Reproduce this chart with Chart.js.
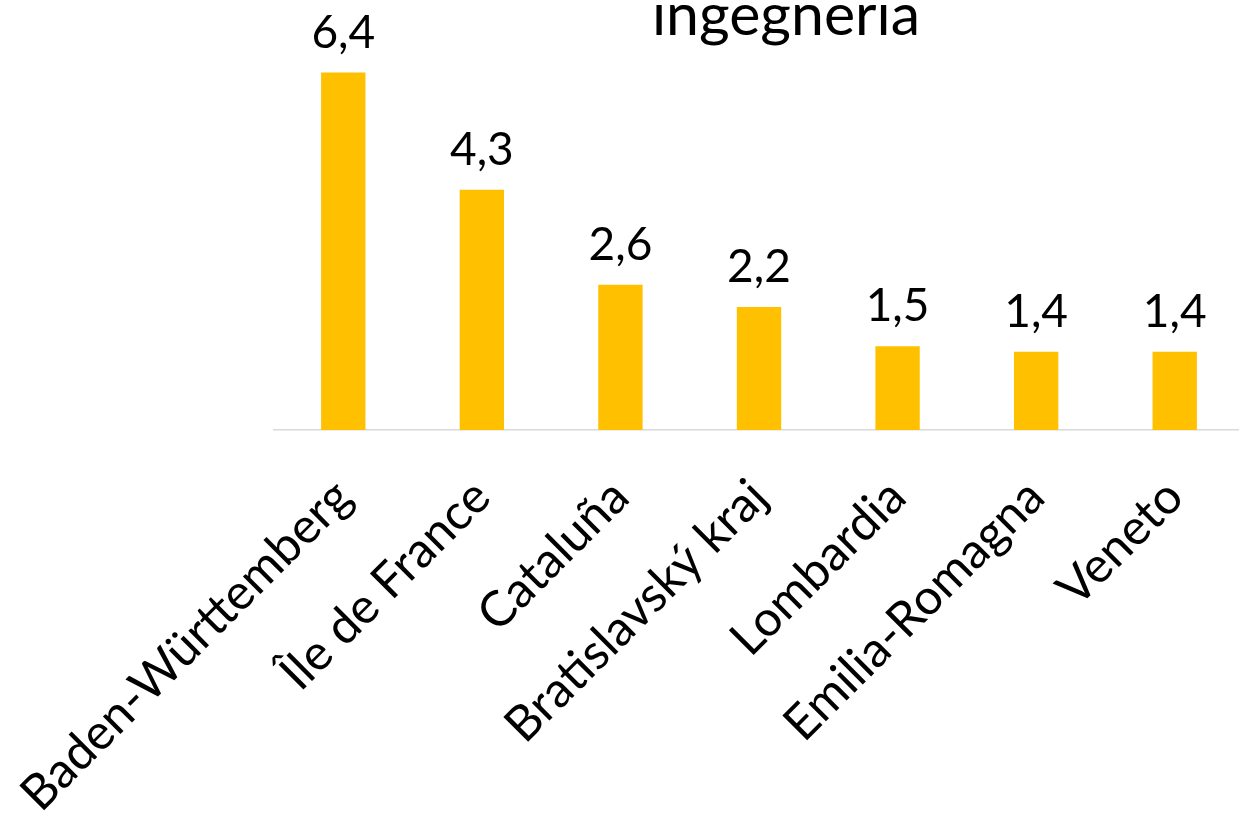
<!DOCTYPE html>
<html>
<head>
<meta charset="utf-8">
<script src="https://cdn.jsdelivr.net/npm/chart.js@4"></script>
<style>
  html, body { margin: 0; padding: 0; background: #fff; width: 1239px; height: 816px; overflow: hidden; }
  #contenitore { position: absolute; left: 0; top: 0; width: 1250px; height: 816px; }
  #titolo { position: absolute; left: 536px; width: 500px; top: -17px; text-align: center;
            font-family: Lato, sans-serif; font-size: 59px; line-height: 59px; color: #000; }
</style>
</head>
<body>
<div id="contenitore"><canvas id="graficoIngegneria"></canvas></div>
<div id="titolo">ingegneria</div>
<script>
// DATI - regioni e valori
const regioni = ["Baden-Württemberg", "Île de France", "Cataluña", "Bratislavský kraj", "Lombardia", "Emilia-Romagna", "Veneto"];
const valori = [6.4, 4.3, 2.6, 2.2, 1.5, 1.4, 1.4];

const coloreBarre = "#FFC000";
const fontTesto = "Lato";

// formato italiano con virgola
function formatta(v) {
  return v.toFixed(1).replace(".", ",");
}

// etichette sopra le barre
const etichetteValori = {
  id: "etichetteValori",
  afterDatasetsDraw(chart) {
    const ctx = chart.ctx;
    const meta = chart.getDatasetMeta(0);
    ctx.save();
    ctx.font = "46px " + fontTesto;
    ctx.fillStyle = "#000";
    ctx.textAlign = "center";
    ctx.textBaseline = "alphabetic";
    meta.data.forEach((barra, i) => {
      ctx.fillText(formatta(valori[i]), barra.x, barra.y - 25);
    });
    ctx.restore();
  }
};

const config = {
  type: "bar",
  data: {
    labels: regioni,
    datasets: [{
      data: valori,
      backgroundColor: coloreBarre,
      borderWidth: 0,
      categoryPercentage: 1,
      barPercentage: 0.32
    }]
  },
  options: {
    responsive: true,
    maintainAspectRatio: false,
    animation: false,
    layout: { padding: { top: 39, left: 274, right: 6, bottom: 0 } },
    plugins: {
      legend: { display: false },
      tooltip: { enabled: false },
      title: { display: false }
    },
    scales: {
      x: {
        grid: { display: false, drawTicks: false },
        border: { color: "#D9D9D9", width: 1.5 },
        ticks: {
          color: "#000",
          font: { family: fontTesto, size: 49 },
          minRotation: 45,
          maxRotation: 45,
          autoSkip: false,
          padding: 38
        },
        afterFit(scale) {
          scale.height = 386;
          scale.paddingLeft = 0;
          scale.paddingRight = 0;
        }
      },
      y: {
        display: false,
        min: 0,
        max: 7
      }
    }
  },
  plugins: [etichetteValori]
};

const graficoIngegneria = new Chart(document.getElementById("graficoIngegneria"), config);
</script>
</body>
</html>
